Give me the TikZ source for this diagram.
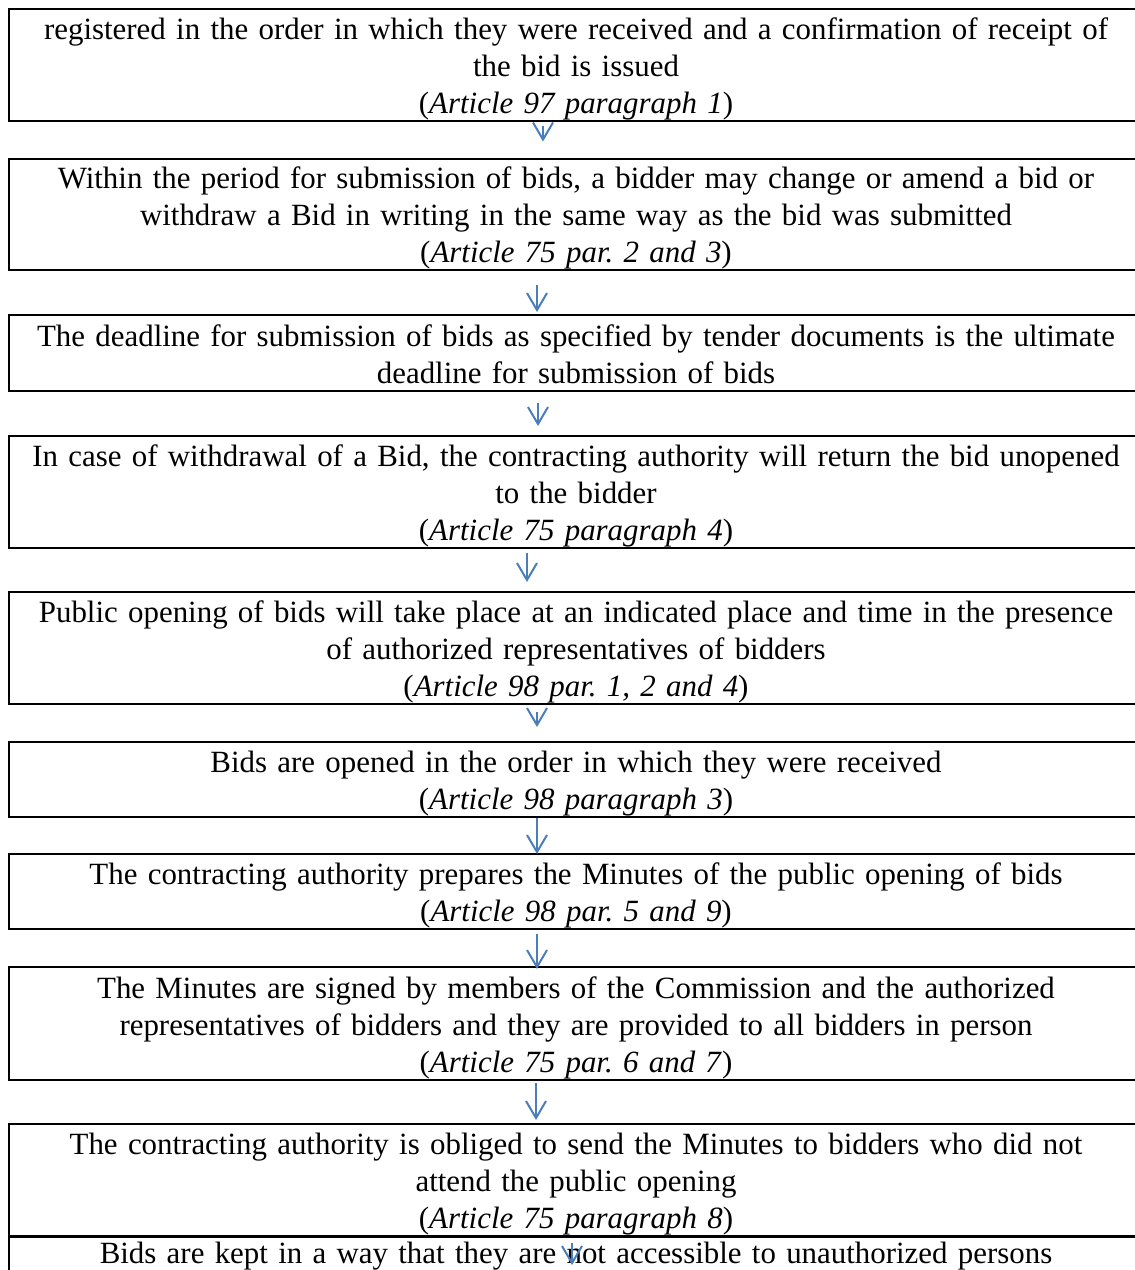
\documentclass[tikz,border=0pt]{standalone}
\usepackage{fontspec}
\setmainfont{Liberation Serif}
\usepackage{tikz}
\usetikzlibrary{arrows.meta,calc}
\definecolor{arrowblue}{HTML}{4A7EBB}
\newcommand{\bstrut}{\rule[-7pt]{0pt}{37pt}}
\newcommand{\lstrut}{\rule[-11pt]{0pt}{37pt}}
\frenchspacing

\begin{document}
\begin{tikzpicture}[x=1pt,y=-1pt,
	box/.style={draw, line width=2pt, minimum width=1134pt, text width=1120pt, inner xsep=7pt, inner ysep=0pt, align=center, font=\fontsize{30.9}{37}\selectfont},
	arr/.style={draw=arrowblue, line width=2pt, -{Straight Barb[length=17pt,width=20pt]}}]
	\useasboundingbox (0,0) rectangle (1135,1270);
	\clip (0,0) rectangle (1135,1270);
	% boxes
	\node[box, minimum height=112pt] (b1) at (576,65) {\bstrut registered in the order in which they were received and a confirmation of receipt of\\ the bid is issued\\ (\textit{Article 97 paragraph 1})\bstrut};
	\node[box, minimum height=110pt] (b2) at (576,214) {\bstrut Within the period for submission of bids, a bidder may change or amend a bid or\\ withdraw a Bid in writing in the same way as the bid was submitted\\ (\textit{Article 75 par. 2 and 3})\bstrut};
	\node[box, minimum height=76pt] (b3) at (576,353) {\bstrut The deadline for submission of bids as specified by tender documents is the ultimate\\ deadline for submission of bids\bstrut};
	\node[box, minimum height=112pt] (b4) at (576,492) {\bstrut In case of withdrawal of a Bid, the contracting authority will return the bid unopened\\ to the bidder\\ (\textit{Article 75 paragraph 4})\bstrut};
	\node[box, minimum height=112pt] (b5) at (576,648) {\bstrut Public opening of bids will take place at an indicated place and time in the presence\\ of authorized representatives of bidders\\ (\textit{Article 98 par. 1, 2 and 4})\bstrut};
	\node[box, minimum height=75pt] (b6) at (576,779.5) {\bstrut Bids are opened in the order in which they were received\\ (\textit{Article 98 paragraph 3})\bstrut};
	\node[box, minimum height=75pt] (b7) at (576,891.5) {\bstrut The contracting authority prepares the Minutes of the public opening of bids\\ (\textit{Article 98 par. 5 and 9})\bstrut};
	\node[box, minimum height=113pt] (b8) at (576,1023.5) {\bstrut The Minutes are signed by members of the Commission and the authorized\\ representatives of bidders and they are provided to all bidders in person\\ (\textit{Article 75 par. 6 and 7})\bstrut};
	\node[box, minimum height=112pt] (b9) at (576,1180) {\bstrut The contracting authority is obliged to send the Minutes to bidders who did not\\ attend the public opening\\ (\textit{Article 75 paragraph 8})\bstrut};
	\node[box, minimum height=37pt, anchor=north] (b10) at (576,1236) {\lstrut Bids are kept in a way that they are not accessible to unauthorized persons};
	% arrows
	\draw[arr] ($(b1.south)+(-33,4)$) -- ($(b2.north)+(-33,-16)$);
	\draw[arr] ($(b2.south)+(-39,14)$) -- ($(b3.north)+(-39,-2)$);
	\draw[arr] ($(b3.south)+(-38,11)$) -- ($(b4.north)+(-38,-9)$);
	\draw[arr] ($(b4.south)+(-49,4)$) -- ($(b5.north)+(-49,-9)$);
	\draw[arr] ($(b5.south)+(-39,7)$) -- ($(b6.north)+(-39,-14)$);
	\draw[arr] ($(b6.south)+(-39,0)$) -- ($(b7.north)+(-39,1)$);
	\draw[arr] ($(b7.south)+(-39,4)$) -- ($(b8.north)+(-39,3)$);
	\draw[arr] ($(b8.south)+(-40,2)$) -- ($(b9.north)+(-40,-3)$);
	\draw[arr] ($(b9.south)+(-4,6)$) -- ($(b10.north)+(-4,29)$);
\end{tikzpicture}
\end{document}
